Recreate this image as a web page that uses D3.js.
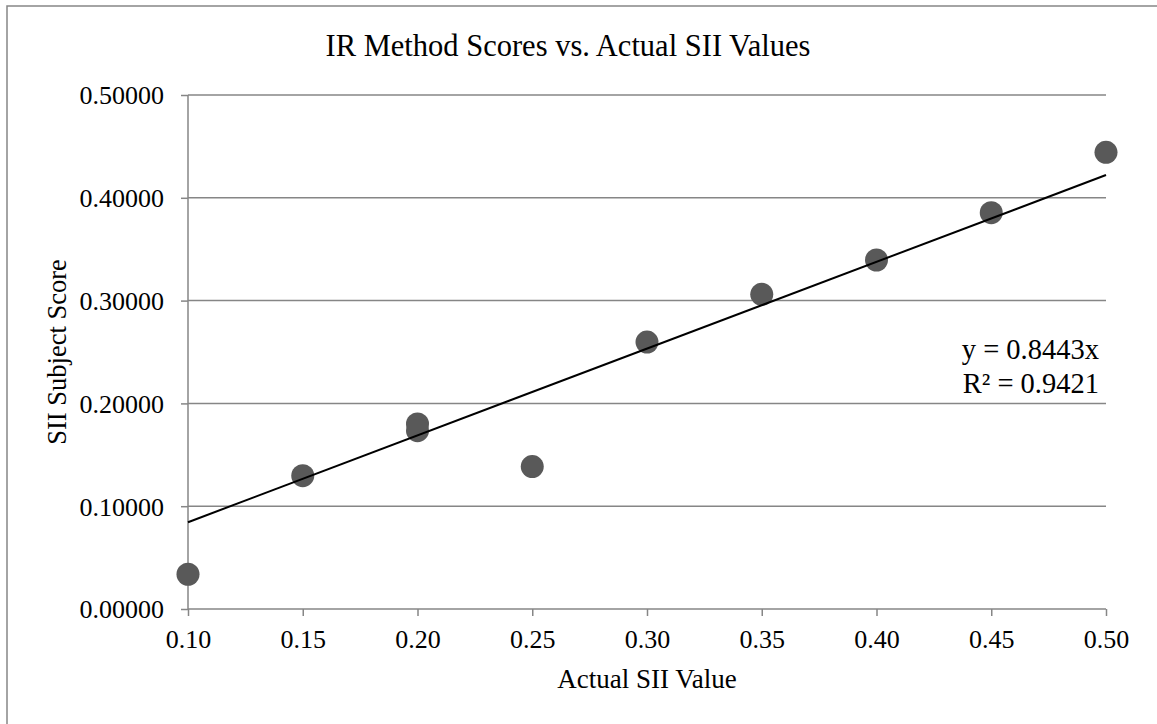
<!DOCTYPE html>
<html>
<head>
<meta charset="utf-8">
<script src="https://cdn.jsdelivr.net/npm/d3@7"></script>
<style>
  html, body { margin: 0; padding: 0; background: #fff; }
  svg { display: block; font-family: "Liberation Serif", "Times New Roman", serif; }
</style>
</head>
<body>
<svg id="chart" width="1157" height="724"></svg>
<script>
// Data
const actualSII = [0.10, 0.15, 0.20, 0.20, 0.25, 0.30, 0.35, 0.40, 0.45, 0.50];
const subjectScore = [0.0338, 0.1297, 0.1800, 0.1735, 0.1385, 0.2597, 0.3061, 0.3395, 0.3855, 0.4443];
const xTicks = [0.10, 0.15, 0.20, 0.25, 0.30, 0.35, 0.40, 0.45, 0.50];
const yTicks = [0.0, 0.1, 0.2, 0.3, 0.4, 0.5];
const trendSlope = 0.8443;
const trendR2 = 0.9421;
const chartTitle = "IR Method Scores vs. Actual SII Values";
const xTitle = "Actual SII Value";
const yTitle = "SII Subject Score";

const svg = d3.select("#chart");
const W = 1157, H = 724;
const m = { left: 188, right: 1106, top: 95, bottom: 609 };
const grid = "#868686";

// outer frame (only top & left edges visible)
svg.append("rect").attr("x", 7).attr("y", 6).attr("width", W + 20).attr("height", H + 20)
  .attr("fill", "#fff").attr("stroke", grid).attr("stroke-width", 1.5);

const x = d3.scaleLinear().domain([0.10, 0.50]).range([m.left, m.right]);
const y = d3.scaleLinear().domain([0, 0.5]).range([m.bottom, m.top]);

// gridlines
svg.append("g").selectAll("line").data(yTicks.filter(d => d > 0)).join("line")
  .attr("x1", m.left).attr("x2", m.right)
  .attr("y1", d => y(d)).attr("y2", d => y(d))
  .attr("stroke", grid).attr("stroke-width", 1.5);

// y axis
const yAxis = svg.append("g").attr("transform", `translate(${m.left},0)`)
  .call(d3.axisLeft(y).tickValues(yTicks).tickFormat(d3.format(".5f")).tickSize(7).tickPadding(17));
yAxis.select(".domain").attr("stroke", grid).attr("stroke-width", 1.5).attr("d", `M0,${m.top}V${m.bottom}`);
yAxis.selectAll(".tick line").attr("stroke", grid).attr("stroke-width", 1.5);
yAxis.selectAll(".tick text").attr("font-size", 26).attr("fill", "#000")
  .attr("font-family", "Liberation Serif, Times New Roman, serif").attr("dy", "0.34em");

// x axis
const xAxis = svg.append("g").attr("transform", `translate(0,${m.bottom})`)
  .call(d3.axisBottom(x).tickValues(xTicks).tickFormat(d3.format(".2f")).tickSize(7).tickPadding(14));
xAxis.select(".domain").attr("stroke", grid).attr("stroke-width", 1.5).attr("d", `M${m.left},0H${m.right}`);
xAxis.selectAll(".tick line").attr("stroke", grid).attr("stroke-width", 1.5);
xAxis.selectAll(".tick text").attr("font-size", 26).attr("fill", "#000")
  .attr("font-family", "Liberation Serif, Times New Roman, serif").attr("dy", "0.71em");

// points
const pts = actualSII.map((v, i) => ({ x: v, y: subjectScore[i] }));
svg.append("g").selectAll("circle").data(pts).join("circle")
  .attr("cx", d => x(d.x)).attr("cy", d => y(d.y)).attr("r", 11.5)
  .attr("fill", "#595959");

// trendline y = slope * x
const tx = d3.extent(actualSII);
svg.append("line")
  .attr("x1", x(tx[0])).attr("y1", y(trendSlope * tx[0]))
  .attr("x2", x(tx[1])).attr("y2", y(trendSlope * tx[1]))
  .attr("stroke", "#000").attr("stroke-width", 2);

// equation
const eq = svg.append("text").attr("text-anchor", "end").attr("font-size", 28.5).attr("fill", "#000");
eq.append("tspan").attr("x", 1099).attr("y", 359).text(`y = ${trendSlope}x`);
eq.append("tspan").attr("x", 1099).attr("y", 393).text(`R² = ${trendR2}`);

// titles
svg.append("text").attr("x", 568).attr("y", 56).attr("text-anchor", "middle")
  .attr("font-size", 30.5).attr("fill", "#000").text(chartTitle);
svg.append("text").attr("x", (m.left + m.right) / 2).attr("y", 688).attr("text-anchor", "middle")
  .attr("font-size", 27).attr("fill", "#000").text(xTitle);
svg.append("text").attr("transform", `translate(66,${(m.top + m.bottom) / 2}) rotate(-90)`)
  .attr("text-anchor", "middle").attr("font-size", 26.5).attr("fill", "#000").text(yTitle);
</script>
</body>
</html>
